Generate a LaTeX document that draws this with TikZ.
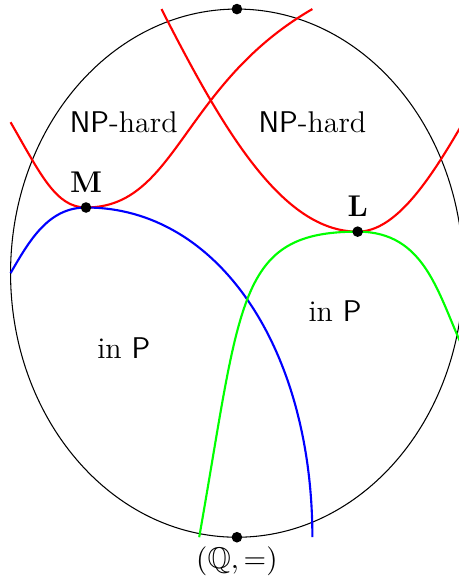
\documentclass[tikz,border=0pt]{standalone}
\usepackage{amssymb}
\usetikzlibrary{positioning}
\newcommand{\picsize}{\fontsize{11.3}{13.6}\selectfont}
\tikzset{
    dot/.style={circle, fill=black, inner sep=0pt, minimum size=4pt},
    curve/.style={thick},
    lab/.style={font=\picsize\bfseries},
    region/.style={font=\picsize},
}

\begin{document}
\begin{tikzpicture}
    \path[use as bounding box, clip] (-3.14,-4.08) rectangle (2.94,3.62);
    \draw (0,0) ellipse (3cm and 3.5cm);
    \coordinate (M) at (-2,0.87);
    \coordinate (L) at (1.6,0.55);
    % NP-hard borders
    \draw[curve, red] (-3,2) to[out=-60, in=180, out distance=0.8cm, in distance=0.4cm] (M)
        to[out=0, in=210, out distance=1.2cm, in distance=2cm] (1,3.5);
    \draw[curve, red] (-1,3.5) to[out=-63, in=180, out distance=1.8cm, in distance=1cm] (L)
        to[out=0, in=-120, out distance=0.5cm, in distance=0.9cm] (3,2);
    % in P borders
    \draw[curve, blue] (-3,0) to[out=60, in=180, out distance=0.5cm, in distance=0.5cm] (M)
        to[out=0, in=90, out distance=1.75cm, in distance=2.5cm] (1,-3.5);
    \draw[curve, green] (-0.5,-3.5) to[out=80, in=180, out distance=3.2cm, in distance=1.6cm] (L)
        to[out=0, in=115, out distance=0.9cm, in distance=0.8cm] (3,-1);
    % points
    \node[dot] (top) at (0,3.5) {};
    \node[dot, label={[region, inner sep=1pt]below:$(\mathbb{Q},=)$}] (bot) at (0,-3.5) {};
    \node[dot, label={[lab]above:M}] (m) at (M) {};
    \node[dot, label={[lab]above:L}] (l) at (L) {};
    % regions
    \node[region] (hardM) at (-1.5,2) {\textsf{NP}-hard};
    \node[region] (hardL) at (1,2) {\textsf{NP}-hard};
    \node[region] (polyM) at (-1.5,-1) {in \textsf{P}};
    \node[region] (polyL) at (1.3,-0.5) {in \textsf{P}};
\end{tikzpicture}
\end{document}
